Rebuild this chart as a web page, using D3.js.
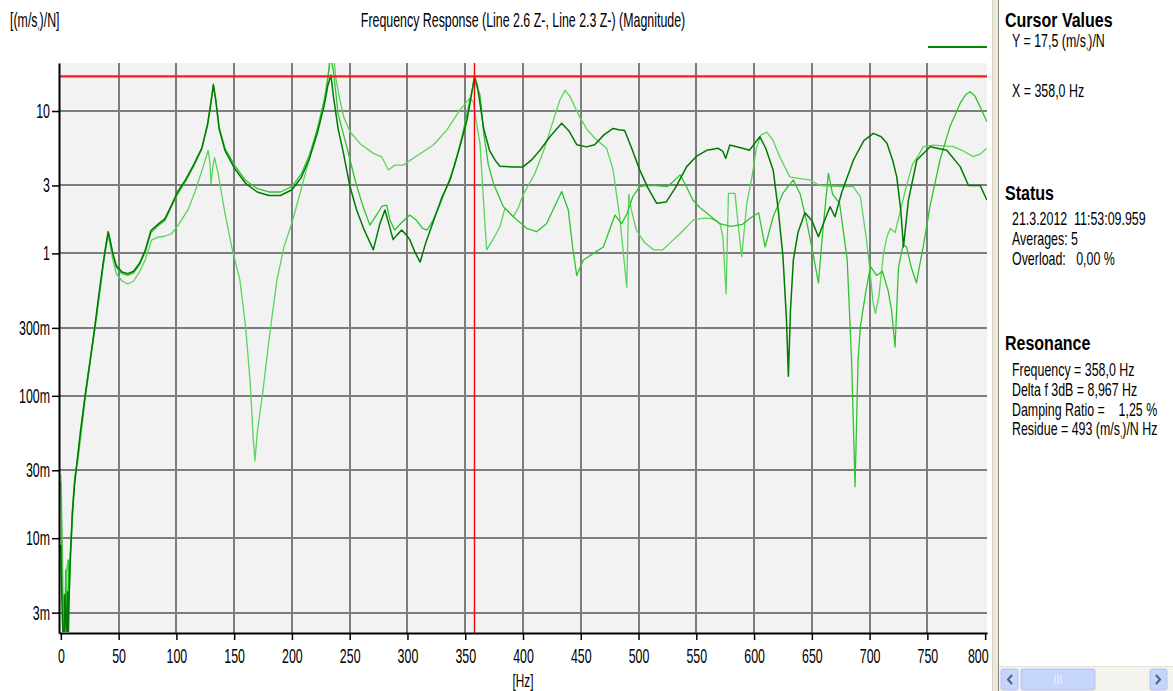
<!DOCTYPE html>
<html>
<head>
<meta charset="utf-8">
<script src="https://cdn.jsdelivr.net/npm/d3@7"></script>
<style>
  html, body { margin: 0; padding: 0; background: #ffffff; }
  svg { display: block; font-family: "Liberation Sans", Arial, sans-serif; }
  text { white-space: pre; fill: #000; }
</style>
</head>
<body>
<svg id="chart" width="1173" height="691"></svg>
<script>
// ---- measured frequency responses: [frequency Hz, magnitude (m/s²)/N] ----
const responseLine26 = [
  [0,0.009],[0.5,0.005],[1,0.0035],[1.5,0.0025],[2,0.0021],[3,0.0021],[3.5,0.004],[4.2,0.0028],[5,0.0021],
  [5.8,0.0042],[6.5,0.0021],[7.5,0.005],[8.5,0.008],[10,0.015],[11.5,0.022],[13.6,0.032],[17,0.055],
  [20.8,0.098],[25,0.17],[29.4,0.306],[33,0.52],[36.6,0.85],[39,1.15],[41,1.42],[43,1.2],[45,1.0],[48,0.82],
  [53,0.74],[58,0.72],[63,0.75],[68,0.85],[73,1.05],[78,1.45],[84,1.6],[90,1.75],[96,2.2],[101,2.7],[108,3.3],
  [115,4.2],[122,5.5],[127,8],[130,11.5],[132,15.2],[134,12],[137,7.5],[142,5.3],[150,4.0],[160,3.1],[170,2.7],
  [180,2.55],[190,2.55],[200,2.8],[208,3.4],[215,4.6],[222,7],[228,11],[231,15],[233.8,17.9],[236,12.5],
  [240,7.5],[244.5,5.1],[250,3.0],[256,2.02],[262,1.5],[270.4,1.06],[276,1.6],[280.5,2.02],[284,1.6],
  [287.6,1.25],[291,1.35],[295,1.46],[299,1.35],[302,1.25],[307,1.0],[311,0.87],[316,1.2],[322,1.64],[330,2.5],
  [337,3.3],[345,5.5],[351.5,8.6],[355,12.5],[358,17.5],[360.5,15],[363,11],[366,7.5],[371,5.3],[376,4.5],
  [380,4.1],[390,4.05],[400,4.05],[407,4.5],[414.7,5.3],[424,6.7],[433.5,8.2],[440,7.2],[446.5,5.8],[455,5.6],
  [462,5.8],[470,6.8],[478,7.55],[483,7.4],[488,7.3],[494,5.5],[501,3.86],[508,2.9],[515.7,2.25],[524,2.3],
  [532,2.9],[541.7,4.07],[550,4.8],[559,5.3],[569,5.47],[573,5.2],[575.5,4.65],[579,5.77],[590,5.47],[596,5.3],
  [601,6.0],[605,6.6],[610,5.5],[616.5,3.86],[621,2.0],[625,0.95],[628,0.35],[629.7,0.137],[631.5,0.4],[634,0.9],
  [638,1.4],[644,1.93],[650,1.7],[655.7,1.31],[661,1.7],[665.8,2.13],[670,1.81],[676,2.7],[686,4.53],[695,6.2],
  [703.3,6.97],[710,6.6],[715,5.93],[720,4.5],[723.5,3.45],[727,2.0],[729.3,1.11],[731,1.5],[733.6,2.37],
  [740.9,4.53],[752.4,5.62],[766.8,5.3],[778.4,4.07],[785.6,3.0],[795.7,3.0],[801.5,2.37]
];

const responseLine23 = [
  [0,0.025],[0.5,0.012],[1,0.006],[1.5,0.0035],[2,0.0021],[2.7,0.004],[3.3,0.0021],[4.2,0.006],[5,0.0035],
  [5.8,0.0021],[6.7,0.007],[7.5,0.0045],[8.5,0.009],[10,0.016],[12,0.026],[14,0.034],[17,0.058],[21,0.1],
  [25,0.17],[29.4,0.3],[33,0.5],[36.6,0.84],[39,1.12],[41,1.4],[43,1.18],[45,0.98],[48,0.8],[53,0.72],[58,0.7],
  [63,0.73],[68,0.83],[73,1.02],[78,1.4],[84,1.56],[90,1.7],[96,2.15],[101,2.6],[108,3.2],[115,4.1],[122,5.4],
  [127,8.2],[130,11.8],[132,15.5],[134,12.3],[137,7.7],[142,5.5],[150,4.2],[160,3.25],[170,2.85],[180,2.7],
  [190,2.7],[200,2.95],[208,3.6],[215,4.9],[222,7.4],[228,12],[231,17],[233.5,24],[236,19],[240,9.5],
  [247.5,5.6],[255,3.2],[261,2.2],[267.5,1.58],[274,1.9],[278,2.15],[282,2.18],[285,1.7],[289,1.46],[295,1.65],
  [302,1.86],[308,1.7],[313,1.5],[317,1.46],[322,1.7],[328,2.2],[334,2.93],[341,4.2],[347,6.5],[352,10],
  [356,14],[358,16.5],[360.5,14.5],[362.8,13],[366,7],[370,4.2],[374.4,3.1],[383,2.13],[391.6,1.81],
  [403.2,1.5],[411.8,1.42],[420.5,1.62],[428,2.2],[433.5,2.72],[439.2,2.02],[443,1.1],[446.5,0.7],[452.2,0.9],
  [460.9,1.0],[469.5,1.11],[479.6,1.86],[485.4,1.62],[490,1.9],[495,2.5],[501,2.95],[508,3.0],[515,3.0],
  [525,2.95],[530,3.2],[536,3.56],[541,3.0],[547,2.37],[553,2.1],[559,1.92],[565,1.75],[570,1.62],[580,1.55],
  [590,1.6],[598,1.8],[604,1.93],[609.5,1.11],[616.5,1.81],[625,2.65],[634,3.28],[640,2.6],[646,1.6],[651,1.0],
  [655.7,0.62],[659,1.3],[664.3,3.65],[668,2.6],[674,2.25],[680.6,0.9],[684.4,0.178],[687.4,0.023],[690,0.178],
  [692,0.306],[696.4,0.52],[700.7,0.81],[706,0.7],[711,0.75],[716,0.55],[719,0.4],[722,0.22],[725,0.8],
  [729,1.15],[732,1.11],[736,0.8],[740.6,0.62],[743,0.8],[746.4,1.11],[752.2,2.13],[760.9,4.53],[769.6,7.8],
  [778.3,11.3],[783,13],[787,13.65],[791,12.8],[795.7,10.7],[801.5,8.4]
];

const responseReference = [
  [0,0.028],[0.5,0.02],[1,0.012],[1.5,0.007],[2,0.0035],[2.6,0.0021],[3.4,0.0021],[4,0.004],[5,0.006],
  [6.3,0.007],[7,0.004],[8,0.0075],[9.2,0.0103],[10.5,0.016],[12,0.027],[15,0.036],[17,0.05],[21,0.093],
  [25,0.16],[29.4,0.29],[33,0.48],[36.6,0.8],[39,1.08],[41,1.35],[43,1.1],[45,0.9],[48,0.72],[53,0.64],
  [58,0.61],[63,0.64],[68,0.74],[73,0.9],[78.5,1.24],[84,1.3],[90,1.32],[96,1.38],[102,1.6],[110,2.02],
  [116,2.7],[122,3.8],[127.5,5.3],[129,4.4],[130,3.1],[131.5,4.0],[133,4.7],[136,3.7],[142,1.93],[148,1.1],
  [150,0.95],[155,0.65],[160,0.3],[164,0.12],[166.5,0.05],[168,0.035],[170,0.055],[175,0.11],[181,0.28],
  [187,0.65],[193,1.1],[200,1.64],[205,2.3],[215,4.6],[222,7.6],[227,10.8],[230,13.4],[232.5,22],[235.8,26],
  [238,17],[241.6,11.9],[245,9],[250.3,7.15],[259,5.9],[270.4,5.04],[277.7,4.77],[283.4,3.85],[289,4.17],
  [296.4,4.17],[305,4.66],[314,5.2],[322.4,5.77],[334,7.35],[345.5,10.2],[354,12.3],[357,11.6],[360,8],
  [362.8,5.9],[366,2.2],[368.5,1.06],[374,1.25],[380,1.54],[384.4,2.08],[391.6,1.81],[396,2.1],[400.3,2.6],
  [410,3.6],[418,5.3],[426,8.5],[432,12],[436.4,14],[441,12.5],[449,9.1],[456,7.3],[463.8,6.26],[472.4,5.47],
  [478,3.86],[484,1.72],[489.8,0.58],[491.5,2.6],[494,2.0],[498,1.46],[505,1.2],[513,1.06],[521,1.06],
  [528,1.2],[536,1.38],[547.5,1.72],[555,1.76],[562,1.76],[567,1.7],[570.6,1.62],[573,1.3],[575.8,0.52],
  [577.8,2.64],[583.5,2.64],[586.4,1.54],[589.3,0.95],[593.7,2.25],[598,3.37],[602,5.5],[606,6.8],[611,7.1],
  [616,6.3],[622.2,4.78],[630.9,3.45],[640,3.35],[648.2,3.28],[656.8,3.0],[674.2,2.95],[685.8,2.95],[692,2.5],
  [697,1.3],[700,0.8],[703,0.45],[705,0.38],[708,0.5],[712,1.0],[715,1.31],[718,1.5],[722,1.4],[726,1.9],
  [731,2.8],[737,4.2],[743,5.0],[746.4,5.62],[755,5.77],[772.4,5.62],[780,5.3],[789.7,4.78],[796,5.0],[801.3,5.47]
];

// ---- axes ----
const xTicks = [0,50,100,150,200,250,300,350,400,450,500,550,600,650,700,750,800];
const xGrid = [50,100,150,200,250,300,350,400,450,500,550,600,650,700,750];
const yTicks = [10, 3, 1, 0.3, 0.1, 0.03, 0.01, 0.003];
const yTickLabels = ["10", "3", "1", "300m", "100m", "30m", "10m", "3m"];

// ---- cursor / status readout ----
const cursorX = 358.0;
const cursorY = 17.5;

const W = 1173, H = 691;
const plot = { left: 59, right: 987, top: 63, bottom: 633 };
const FS = 20;          // UI font size
const SX = 0.62;        // horizontal squeeze for the condensed UI font
const PFS = 18, PSX = 0.69;   // panel rows
const SXB = 0.8;        // bold panel headings

const svg = d3.select("#chart");

const x = d3.scaleLinear().domain([-1.6, 801.6]).range([plot.left, plot.right]);
const y = d3.scaleLog().domain([0.002159, 21.74]).range([plot.bottom, plot.top]);

function label(parent, px, py, parts, opt = {}) {
  const size = opt.size || FS, sx = opt.sx || SX;
  const t = parent.append("text")
    .attr("transform", `translate(${px},${py}) scale(${sx},1)`)
    .attr("text-anchor", opt.anchor || "start")
    .attr("font-size", size)
    .attr("font-weight", opt.weight || "normal");
  (Array.isArray(parts) ? parts : [parts]).forEach(p => {
    if (typeof p === "string") t.append("tspan").text(p);
    else t.append("tspan").attr("dy", p.dy).attr("font-size", p.size || size).text(p.text);
  });
  return t;
}
// "(m/s" + lowered small mark + ")" as printed by the analyser
const unitParts = (pre, post) => [pre + "(m/s", { text: ",", dy: 2, size: 12 }, { text: ")" + post, dy: -2 }];

// plot background
svg.append("rect")
  .attr("x", plot.left).attr("y", plot.top)
  .attr("width", plot.right - plot.left).attr("height", plot.bottom - plot.top)
  .attr("fill", "#f2f2f2");

// grid
const grid = svg.append("g").attr("shape-rendering", "crispEdges");
grid.selectAll("line.h").data(yTicks).join("line")
  .attr("x1", plot.left).attr("x2", plot.right)
  .attr("y1", d => Math.round(y(d))).attr("y2", d => Math.round(y(d)))
  .attr("stroke", "#7d7d7d").attr("stroke-width", 2);
grid.selectAll("line.v").data(xGrid).join("line")
  .attr("y1", plot.top).attr("y2", plot.bottom)
  .attr("x1", d => Math.round(x(d))).attr("x2", d => Math.round(x(d)))
  .attr("stroke", "#7d7d7d").attr("stroke-width", 2);

// curves
svg.append("clipPath").attr("id", "plotClip").append("rect")
  .attr("x", plot.left + 1).attr("y", plot.top)
  .attr("width", plot.right - plot.left - 1).attr("height", plot.bottom - plot.top - 1);

const line = d3.line().x(d => x(d[0])).y(d => y(d[1]));
const curves = svg.append("g").attr("clip-path", "url(#plotClip)").attr("fill", "none")
  .attr("stroke-linejoin", "round");
curves.append("path").datum(responseReference).attr("d", line)
  .attr("stroke", "#5ad45a").attr("stroke-width", 1.3);
curves.append("path").datum(responseLine23).attr("d", line)
  .attr("stroke", "#2ec42e").attr("stroke-width", 1.3);
curves.append("path").datum(responseLine26).attr("d", line)
  .attr("stroke", "#007a00").attr("stroke-width", 1.5);

// cursor cross-hair
svg.append("line")
  .attr("x1", plot.left).attr("x2", plot.right)
  .attr("y1", y(cursorY)).attr("y2", y(cursorY))
  .attr("stroke", "#ff1a1a").attr("stroke-width", 2.4);
svg.append("line")
  .attr("x1", x(cursorX)).attr("x2", x(cursorX))
  .attr("y1", plot.top).attr("y2", plot.bottom)
  .attr("stroke", "#ff0000").attr("stroke-width", 1.4);

// axes
const yAxis = svg.append("g").attr("transform", `translate(${plot.left},0)`)
  .call(d3.axisLeft(y).tickValues(yTicks).tickFormat((d, i) => yTickLabels[i])
    .tickSize(7).tickSizeOuter(0).tickPadding(2));
yAxis.attr("font-family", null).attr("font-size", null);
yAxis.select(".domain").attr("stroke", "#000").attr("stroke-width", 2);
yAxis.selectAll(".tick line").attr("stroke", "#000").attr("stroke-width", 1.5);
yAxis.selectAll(".tick text")
  .attr("font-size", FS)
  .attr("x", -9 / SX).attr("transform", `scale(${SX},1)`);

const xAxis = svg.append("g").attr("transform", `translate(0,${plot.bottom})`)
  .call(d3.axisBottom(x).tickValues(xTicks).tickFormat(d3.format("d"))
    .tickSize(7).tickSizeOuter(0).tickPadding(9));
xAxis.attr("font-family", null).attr("font-size", null);
xAxis.select(".domain").attr("stroke", "#000").attr("stroke-width", 2);
xAxis.selectAll(".tick line").attr("stroke", "#000").attr("stroke-width", 1.5);
xAxis.selectAll(".tick text")
  .attr("font-size", FS)
  .attr("transform", `scale(${SX},1)`);
// the last label is pulled inside the plot's right edge
xAxis.selectAll(".tick text").filter(d => d === xTicks[xTicks.length - 1])
  .attr("text-anchor", "end").attr("x", 3 / SX);

label(svg, x(400), 686.5, "[Hz]", { anchor: "middle", size: 19 });

// header texts
label(svg, 10, 27, unitParts("[", "/N]"));
label(svg, 523, 27, "Frequency Response (Line 2.6 Z-, Line 2.3 Z-) (Magnitude)", { anchor: "middle" });

// legend swatch
svg.append("line").attr("x1", 928).attr("x2", plot.right).attr("y1", 47).attr("y2", 47)
  .attr("stroke", "#008a00").attr("stroke-width", 2);

// ---- side panel ----
svg.append("rect").attr("x", 992).attr("y", 0).attr("width", 7).attr("height", H).attr("fill", "#ece9d8");
svg.append("line").attr("x1", 992.5).attr("x2", 992.5).attr("y1", 0).attr("y2", H).attr("stroke", "#d6d3c6");
svg.append("line").attr("x1", 998.5).attr("x2", 998.5).attr("y1", 0).attr("y2", H).attr("stroke", "#8c8a80");

const fmt = v => v.toFixed(1).replace(".", ",");
const panel = svg.append("g");
const row = (py, parts) => label(panel, 1012, py, parts, { size: PFS, sx: PSX });
const heading = (py, s) => label(panel, 1005, py, s, { weight: "bold", size: 20, sx: SXB });

heading(27, "Cursor Values");
row(47, unitParts(`Y = ${fmt(cursorY)} `, "/N"));
row(97, `X = ${fmt(cursorX)} Hz`);

heading(200, "Status");
row(225, "21.3.2012  11:53:09.959");
row(245, "Averages: 5");
row(265, "Overload:   0,00 %");

heading(350, "Resonance");
row(375.5, `Frequency = ${fmt(cursorX)} Hz`);
row(396, "Delta f 3dB = 8,967 Hz");
row(415.5, "Damping Ratio =    1,25 %");
row(435, unitParts("Residue = 493 ", "/N Hz"));

// horizontal scrollbar
const sb = svg.append("g");
sb.append("rect").attr("x", 999).attr("y", 666).attr("width", W - 999).attr("height", H - 666).attr("fill", "#f4f3ee");
sb.append("line").attr("x1", 999).attr("x2", W).attr("y1", 666.5).attr("y2", 666.5).attr("stroke", "#e3e1d8");
function button(x0, w) {
  sb.append("rect").attr("x", x0).attr("y", 669).attr("width", w).attr("height", 21).attr("rx", 2)
    .attr("fill", "#c6d5fb").attr("stroke", "#b2c4f2");
}
button(1001, 17);
button(1021, 74);
button(1150, 17);
[-3, 0, 3].forEach(d => sb.append("line").attr("x1", 1058 + d).attr("x2", 1058 + d)
  .attr("y1", 675).attr("y2", 684).attr("stroke", "#eef2fd").attr("stroke-width", 1.2));
sb.append("path").attr("d", "M1012,675 L1008,679.5 L1012,684").attr("fill", "none")
  .attr("stroke", "#4d6185").attr("stroke-width", 2);
sb.append("path").attr("d", "M1156,675 L1160,679.5 L1156,684").attr("fill", "none")
  .attr("stroke", "#4d6185").attr("stroke-width", 2);
</script>
</body>
</html>
